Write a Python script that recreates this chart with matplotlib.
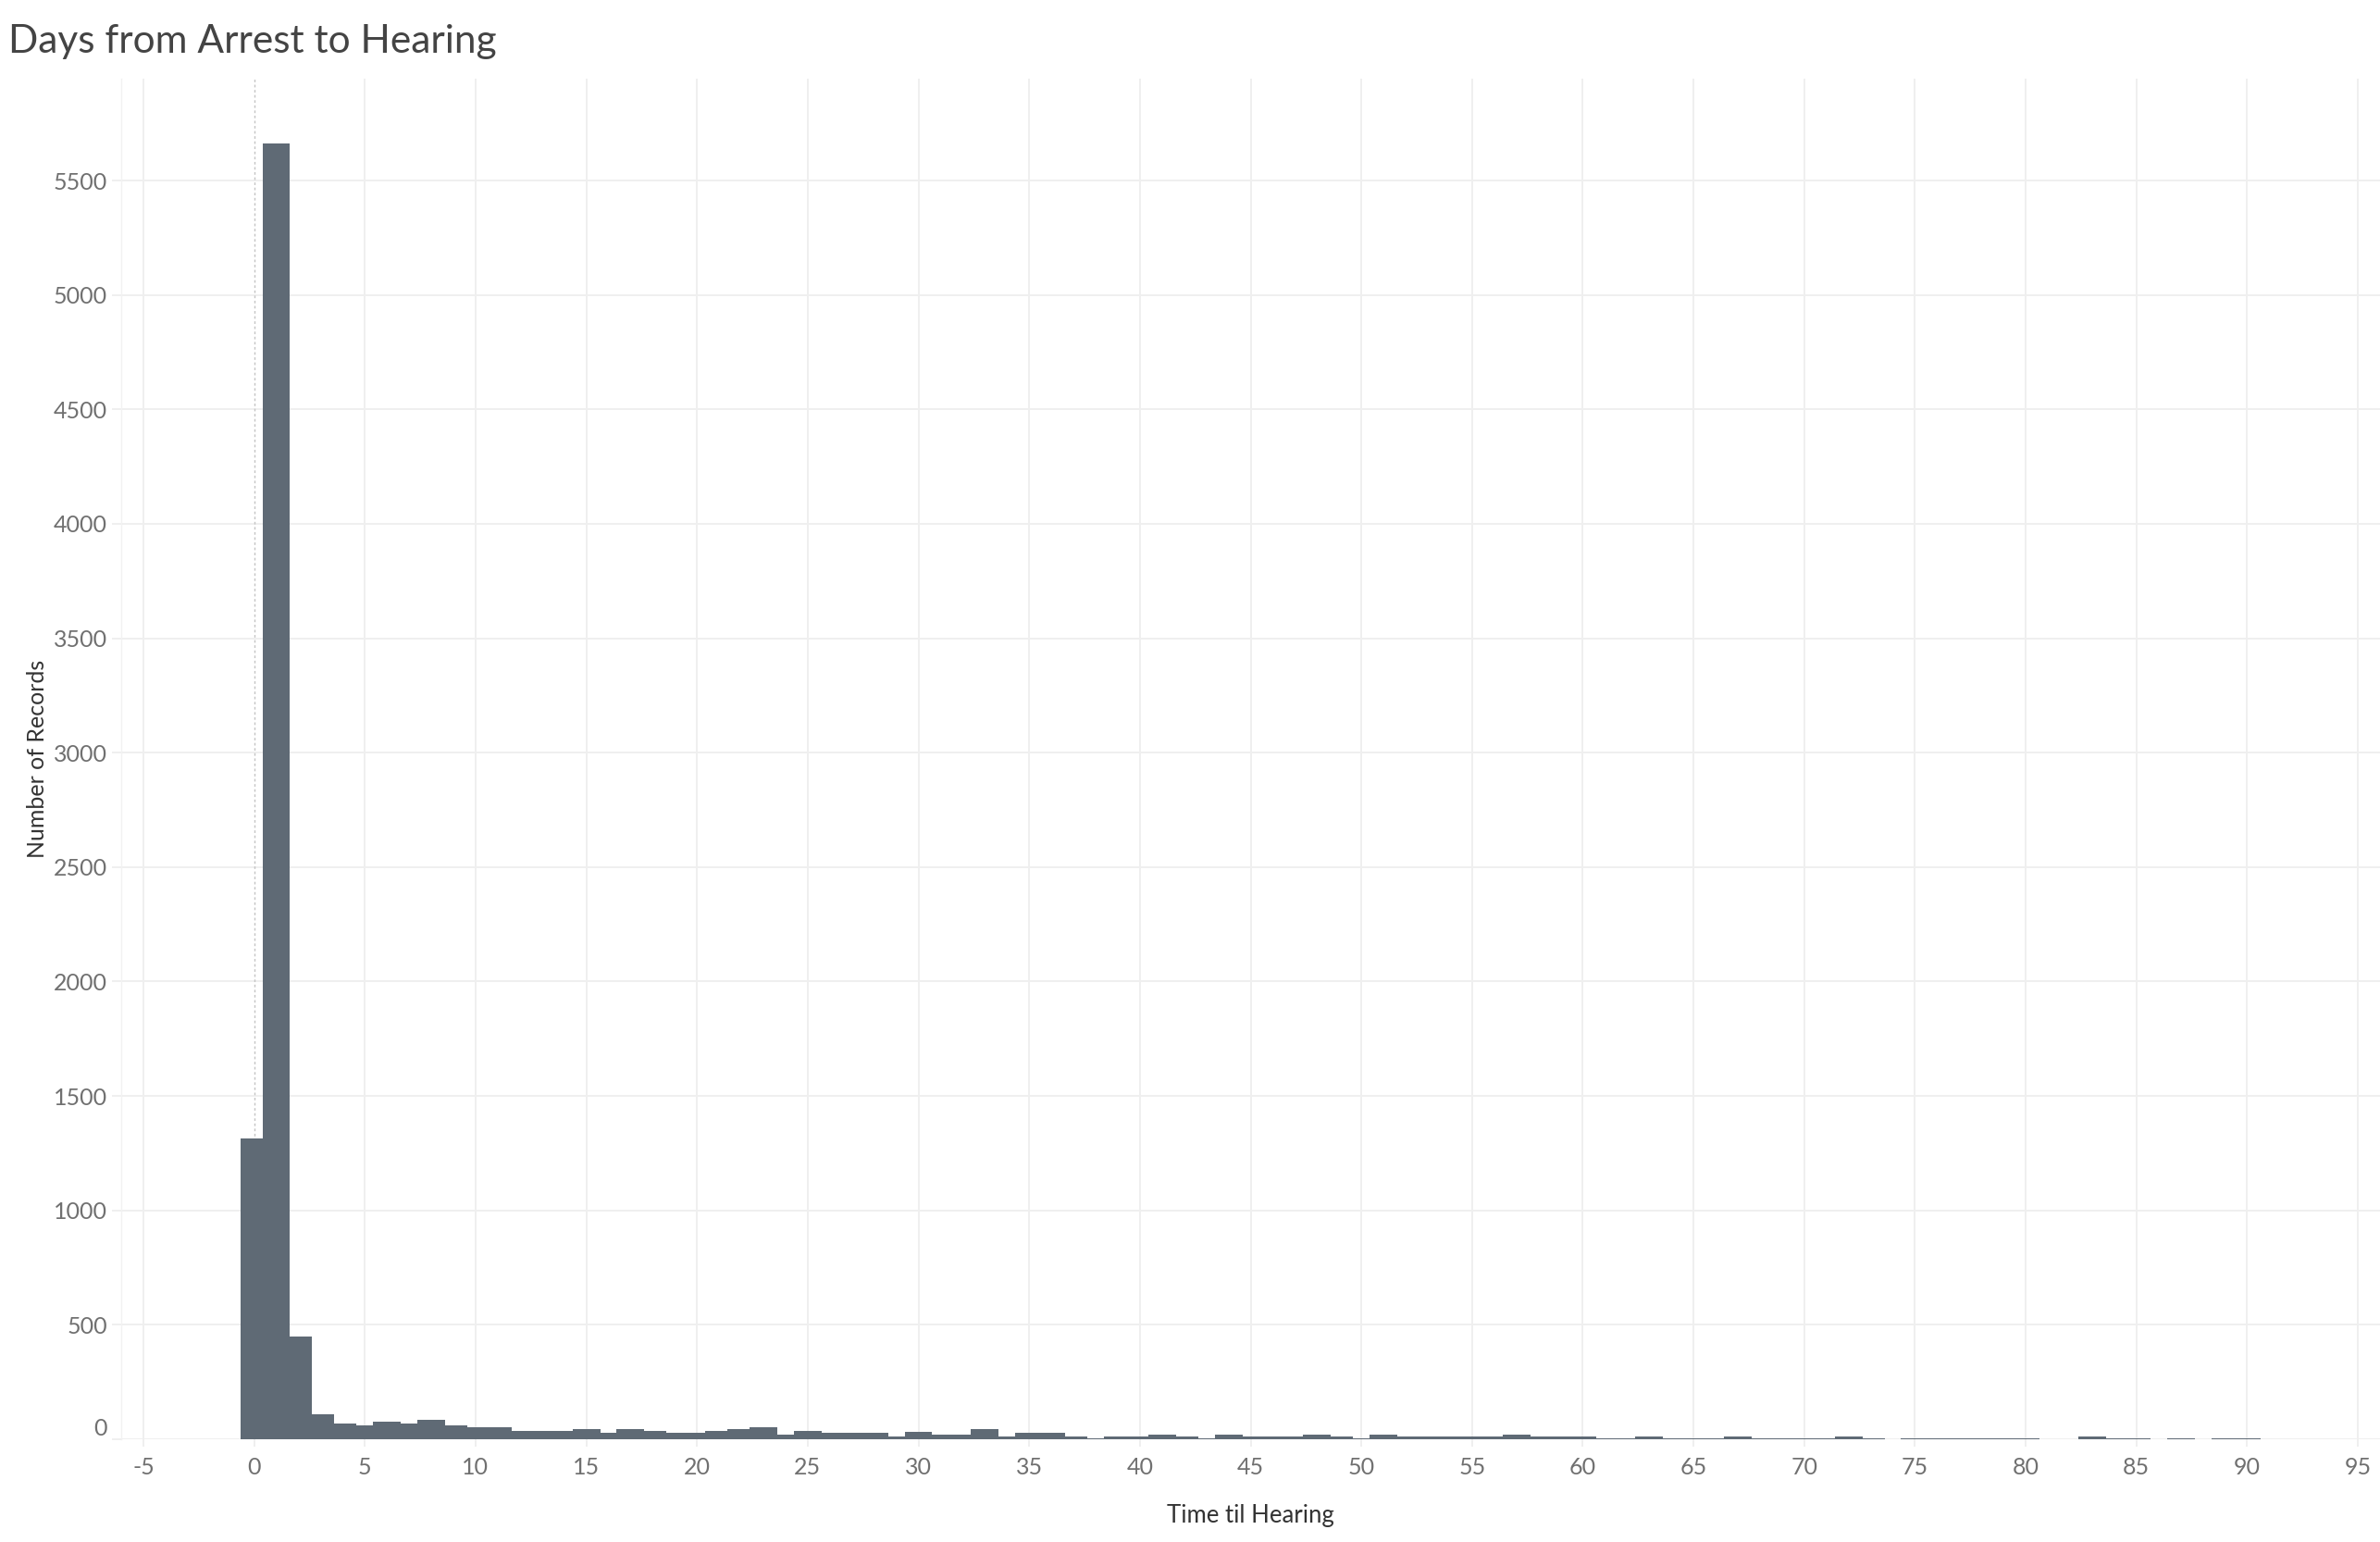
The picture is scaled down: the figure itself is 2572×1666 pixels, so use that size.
import matplotlib
matplotlib.use("Agg")
import matplotlib.pyplot as plt
from matplotlib import font_manager as fm

# ---- data ----
days = list(range(0, 91))
counts = [1315, 5660, 450, 108, 69, 61, 77, 69, 85, 61,
          53, 53, 36, 36, 36, 44, 28, 44, 36, 28,
          28, 36, 44, 52, 20, 36, 28, 28, 28, 12,
          32, 20, 20, 44, 12, 28, 28, 12, 5, 12,
          12, 20, 12, 5, 20, 12, 12, 12, 20, 12,
          5, 20, 12, 12, 12, 12, 12, 20, 12, 12,
          12, 5, 5, 12, 5, 5, 5, 12, 5, 5,
          5, 5, 12, 5, 0, 5, 5, 5, 5, 5,
          5, 0, 0, 12, 5, 5, 0, 5, 0, 5,
          5]
x_ticks = list(range(-5, 100, 5))
y_ticks = list(range(0, 6000, 500))

title = "Days from Arrest to Hearing"
x_label = "Time til Hearing"
y_label = "Number of Records"

# ---- style ----
names = {f.name for f in fm.fontManager.ttflist}
fam = "Lato" if "Lato" in names else "DejaVu Sans"
plt.rcParams['font.family'] = [fam, 'DejaVu Sans']

W, H, DPI = 2572, 1666, 100
fig = plt.figure(figsize=(W / DPI, H / DPI), dpi=DPI)
ax = fig.add_axes([131 / W, (H - 1555) / H, 1 - 131 / W, (1555 - 85) / H])

bar_color = "#5f6a75"
grid_color = "#efefef"

ax.bar(days, counts, width=1.25, color=bar_color, linewidth=0, zorder=3)

ax.set_xlim(-6, 96)
ax.set_ylim(0, 5945)

# gridlines
for t in x_ticks:
    if t != 0:
        ax.axvline(t, color=grid_color, lw=1.4, zorder=1)
for t in y_ticks:
    ax.axhline(t, color=grid_color, lw=1.4, zorder=1)
ax.axvline(0, color="#c4c4c4", lw=1.0, linestyle=(0, (2, 2)), zorder=2)

for s in ["top", "right", "bottom"]:
    ax.spines[s].set_visible(False)
ax.spines["left"].set_color("#f2f2f2")
ax.spines["left"].set_linewidth(1.0)

ax.set_xticks(x_ticks)
ax.set_xticklabels([str(t) for t in x_ticks])
ax.set_yticks(y_ticks)
ax.set_yticklabels([str(t) for t in y_ticks])
ax.tick_params(axis="x", colors=grid_color, length=6, width=1.4, pad=8,
               labelsize=18, labelcolor="#707070")
ax.tick_params(axis="y", colors=grid_color, length=7, width=1.4, pad=4,
               labelsize=18, labelcolor="#707070")
ylabs = ax.get_yticklabels()
ylabs[0].set_verticalalignment("bottom")

ax.set_xlabel(x_label, fontsize=18.5, color="#333333", labelpad=20)
ax.set_ylabel(y_label, fontsize=18, color="#333333", labelpad=4)

fig.text(9 / W, 1 - 45 / H, title, fontsize=30.5, color="#444444",
         fontweight="normal", ha="left", va="center")

fig.savefig("out.png", dpi=DPI, facecolor="white")
